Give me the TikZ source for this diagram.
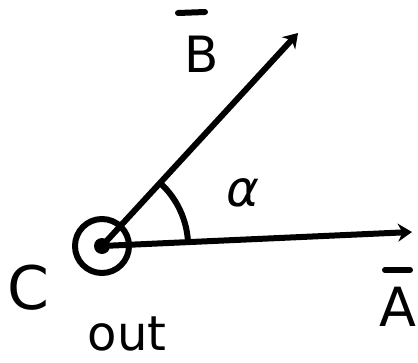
\documentclass[tikz,border=0pt]{standalone}
\usepackage{fontspec}
\setmainfont{DejaVu Sans}
\usetikzlibrary{arrows.meta,calc}
\begin{document}
\begin{tikzpicture}[x=1pt,y=-1pt,
  stroke/.style={line width=6pt,line cap=round,line join=round},
  vec/.style={stroke,-{Stealth[length=14pt,width=18pt]}},
  lbl/.style={font=\fontsize{50}{50}\selectfont,inner sep=0pt}]
\useasboundingbox (0,0) rectangle (418,362);
\coordinate (O) at (102,246);
\coordinate (Atip) at (412,232);
\coordinate (Btip) at (298,33);
\node[circle,draw,line width=6pt,minimum size=54pt,inner sep=0pt] (ring) at (O) {};
\fill (O) circle (8pt);
\draw[vec] (O) -- (Atip);
\draw[vec] (O) -- (Btip);
\draw[stroke] ($(O)+(86,-4)$) arc[start angle=-3,end angle=-47,radius=86];
\node[lbl,font=\fontsize{50}{50}\selectfont\itshape] (alpha) at (243,193) {α};
\node[lbl] (B) at (202,54) {B};
\draw[stroke] (178,13) -- (205,12);
\node[lbl,font=\fontsize{54}{54}\selectfont] (A) at (398,307) {A};
\draw[stroke] (385,270) -- (410,270);
\node[lbl,font=\fontsize{60}{60}\selectfont] (C) at (28,288) {C};
\node[lbl,font=\fontsize{48}{48}\selectfont] (out) at (127,334) {out};
\end{tikzpicture}
\end{document}
